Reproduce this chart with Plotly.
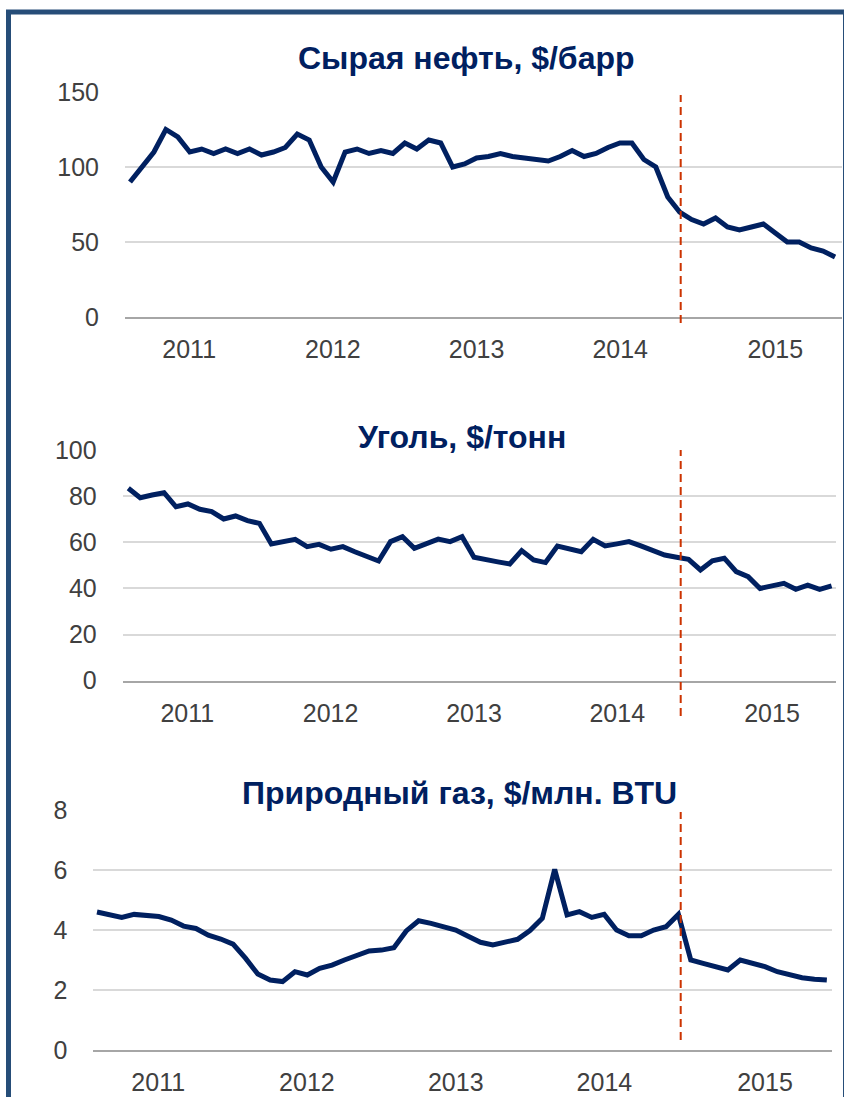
import numpy as np
import plotly.graph_objects as go

# ---- data (monthly, Jan 2011 .. Dec 2015) ----
months = [f"{y}-{m:02d}" for y in range(2011, 2016) for m in range(1, 13)]

oil = [90, 100, 110, 125, 120, 110, 112, 109, 112, 109, 112, 108,
       110, 113, 122, 118, 100, 90, 110, 112, 109, 111, 109, 116,
       112, 118, 116, 100, 102, 106, 107, 109, 107, 106, 105, 104,
       107, 111, 107, 109, 113, 116, 116, 105, 100, 80, 70, 65,
       62, 66, 60, 58, 60, 62, 56, 50, 50, 46, 44, 40]

coal = [83.4, 79.3, 80.5, 81.5, 75.4, 76.6, 74.3, 73.3, 70.1, 71.4, 69.4, 68.2,
        59.3, 60.3, 61.3, 58.1, 59.1, 57.0, 58.1, 55.9, 53.8, 51.9, 60.3, 62.4,
        57.4, 59.6, 61.4, 60.3, 62.4, 53.5, 52.3, 51.5, 50.6, 56.4, 52.3, 51.2,
        58.4, 57.4, 55.9, 61.3, 58.4, 59.3, 60.3, 58.4, 56.4, 54.5, 53.5, 52.6,
        48.0, 52.0, 53.1, 47.3, 45.1, 40.0, 41.1, 42.2, 39.6, 41.4, 39.6, 41.1]

gas = [4.6, 4.52, 4.42, 4.52, 4.5, 4.45, 4.33, 4.13, 4.05, 3.83, 3.7, 3.53,
       3.06, 2.53, 2.33, 2.28, 2.61, 2.5, 2.72, 2.83, 3.0, 3.13, 3.3, 3.33,
       3.41, 3.97, 4.31, 4.22, 4.13, 4.0, 3.79, 3.59, 3.5, 3.58, 3.69, 3.98,
       4.39, 6.02, 4.5, 4.61, 4.42, 4.52, 4.0, 3.81, 3.81, 4.0, 4.11, 4.52,
       3.0, 2.89, 2.78, 2.67, 3.0, 2.89, 2.78, 2.61, 2.5, 2.41, 2.36, 2.33]

titles = ["Сырая нефть, $/барр", "Уголь, $/тонн", "Природный газ, $/млн. BTU"]
year_labels = ["2011", "2012", "2013", "2014", "2015"]
oil_ticks = [0, 50, 100, 150]
coal_ticks = [0, 20, 40, 60, 80, 100]
gas_ticks = [0, 2, 4, 6, 8]

x = np.arange(len(months))

W, H = 844, 1097
def px(v):
    return v / W
def py(v):
    return 1 - v / H

NAVY = "#002060"
FONT = "Liberation Sans, Arial, sans-serif"

fig = go.Figure()
series = [oil, coal, gas]
for i, s in enumerate(series):
    fig.add_trace(go.Scatter(
        x=x, y=s, mode="lines", xaxis=f"x{i+1}" if i else "x",
        yaxis=f"y{i+1}" if i else "y",
        line=dict(color=NAVY, width=5), showlegend=False,
        hoverinfo="skip"))

year_pos = [4.95, 16.97, 29.0, 41.02, 54.0]

# panel geometry (pixels)
panels = [
    dict(x0=125, x1=842, d0=130, dx=11.95, ytop=92, ybot=317, rng=[0, 150], ticks=oil_ticks),
    dict(x0=122.7, x1=836, d0=128.3, dx=11.92, ytop=450, ybot=680.7, rng=[0, 100], ticks=coal_ticks),
    dict(x0=93.3, x1=831.7, d0=97, dx=12.37, ytop=810, ybot=1050, rng=[0, 8], ticks=gas_ticks),
]

layout = dict(width=W, height=H, margin=dict(l=0, r=0, t=0, b=0, autoexpand=False),
              template="none",
              paper_bgcolor="white", plot_bgcolor="white",
              font=dict(family=FONT, size=25, color="#404040"))
for i, p in enumerate(panels):
    sx = "" if i == 0 else str(i + 1)
    xr = [(p["x0"] - p["d0"]) / p["dx"], (p["x1"] - p["d0"]) / p["dx"]]
    layout[f"xaxis{sx}"] = dict(
        domain=[px(p["x0"]), px(p["x1"])], range=xr, anchor=f"y{sx}",
        automargin=False,
        tickmode="array", tickvals=year_pos, ticktext=year_labels,
        showgrid=False, zeroline=False, showline=True, linecolor="#a6a6a6",
        linewidth=2, ticks="outside", ticklen=9, tickcolor="rgba(0,0,0,0)",
        tickfont=dict(size=25, color="#404040"), fixedrange=True)
    layout[f"yaxis{sx}"] = dict(
        domain=[py(p["ybot"]), py(p["ytop"])], range=p["rng"], anchor=f"x{sx}",
        automargin=False,
        tickmode="array", tickvals=p["ticks"], showgrid=True, gridcolor="#d9d9d9",
        gridwidth=1.5, zeroline=False, showline=False, ticks="outside",
        ticklen=20, tickcolor="rgba(0,0,0,0)",
        tickfont=dict(size=25, color="#404040"), fixedrange=True)
fig.update_layout(**layout)

# titles
title_pos = [(466, 58), (462, 437), (460, 793)]
for t, (tx, ty) in zip(titles, title_pos):
    fig.add_annotation(text=f"<b>{t}</b>", x=px(tx), y=py(ty), xref="paper", yref="paper",
                       xanchor="center", yanchor="middle", showarrow=False,
                       font=dict(family=FONT, size=32, color=NAVY))

# red dashed vertical marker (same position in every panel)
red_x = px(680.7)
for (y0, y1) in [(95, 323), (450, 716), (812, 1040)]:
    fig.add_shape(type="line", xref="paper", yref="paper", x0=red_x, x1=red_x,
                  y0=py(y1), y1=py(y0), line=dict(color="#cc3300", width=2, dash="8px,5px"))

# frame
fig.add_shape(type="rect", xref="paper", yref="paper", x0=px(8.5), x1=px(845.5),
              y0=py(1105), y1=py(12), line=dict(color="#264d78", width=5),
              fillcolor="rgba(0,0,0,0)", layer="above")

fig.write_html("out.html", config={"displayModeBar": False},
               post_script="document.body.style.margin='0';document.body.style.overflow='hidden';")
